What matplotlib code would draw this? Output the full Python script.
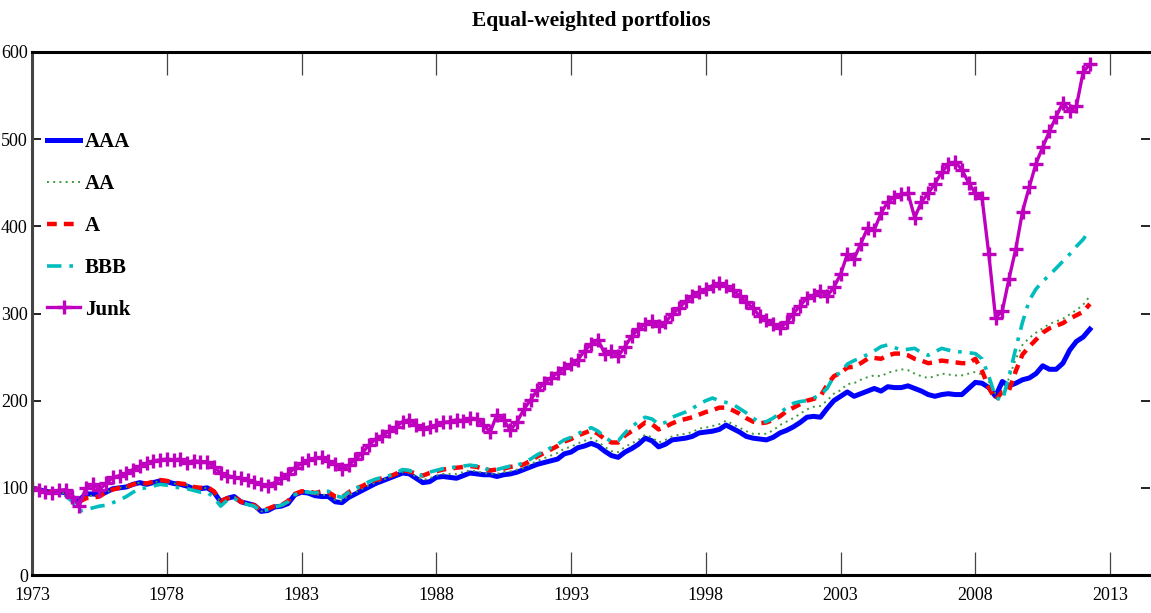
import numpy as np
import matplotlib
matplotlib.use("Agg")
import matplotlib.pyplot as plt
from matplotlib import font_manager

# ---- data: quarterly index levels (1973Q1 = 100) ----
start_year = 1973.0
step = 0.25

aaa = [
    100, 98, 96, 95,
    96, 94, 89, 86,
    93, 93, 92, 95,
    99, 100, 101, 104,
    106, 104, 106, 108,
    107, 105, 104, 102,
    99, 99, 100, 95,
    84, 88, 90, 84,
    82, 80, 73, 74,
    78, 79, 82, 92,
    95, 94, 91, 90,
    90, 84, 83, 89,
    93, 97, 101, 105,
    108, 111, 114, 117,
    116, 111, 106, 107,
    112, 113, 112, 111,
    114, 117, 116, 115,
    115, 113, 115, 116,
    118, 121, 124, 127,
    129, 131, 133, 139,
    141, 146, 148, 151,
    148, 142, 137, 135,
    141, 145, 150, 157,
    154, 147, 150, 155,
    156, 157, 159, 163,
    164, 165, 167, 172,
    168, 164, 159, 157,
    156, 155, 158, 163,
    166, 170, 175, 181,
    182, 181, 191, 200,
    205, 210, 205, 208,
    211, 214, 211, 216,
    215, 215, 217, 214,
    211, 207, 205, 207,
    208, 207, 207, 214,
    221, 220, 215, 205,
    222, 217, 220, 224,
    226, 231, 240, 236,
    236, 243, 258, 268,
    273, 282,
]

aa = [
    100, 98, 96, 95,
    96, 93, 88, 85,
    90, 91, 91, 95,
    98, 100, 101, 104,
    106, 104, 106, 108,
    107, 105, 104, 103,
    100, 99, 100, 95,
    84, 88, 90, 84,
    82, 80, 73, 75,
    78, 79, 83, 92,
    95, 95, 92, 92,
    92, 86, 85, 91,
    95, 99, 103, 106,
    109, 112, 115, 118,
    117, 113, 109, 111,
    114, 116, 116, 116,
    118, 120, 119, 117,
    116, 116, 118, 119,
    121, 123, 127, 131,
    134, 137, 140, 145,
    147, 151, 154, 157,
    153, 147, 142, 141,
    147, 151, 155, 161,
    158, 152, 155, 159,
    161, 162, 164, 168,
    169, 171, 173, 177,
    173, 169, 165, 162,
    162, 162, 166, 172,
    176, 180, 185, 190,
    193, 194, 200, 208,
    212, 219, 220, 224,
    227, 229, 228, 232,
    234, 236, 235, 231,
    228, 226, 228, 231,
    230, 229, 229, 231,
    233, 230, 222, 208,
    206, 226, 248, 264,
    272, 278, 283, 288,
    291, 294, 299, 304,
    310, 320,
]

a = [
    100, 98, 96, 95,
    96, 93, 88, 84,
    88, 89, 90, 95,
    98, 100, 101, 104,
    106, 105, 107, 109,
    108, 106, 105, 104,
    101, 100, 101, 96,
    85, 88, 90, 84,
    82, 80, 74, 76,
    79, 80, 85, 93,
    96, 96, 94, 96,
    95, 90, 89, 95,
    99, 102, 106, 109,
    111, 113, 116, 120,
    119, 116, 114, 117,
    119, 121, 122, 123,
    124, 125, 124, 122,
    120, 121, 122, 124,
    125, 127, 131, 136,
    140, 144, 148, 153,
    156, 160, 163, 166,
    162, 156, 152, 152,
    160, 165, 169, 175,
    173, 167, 170, 174,
    177, 179, 181, 184,
    187, 189, 192, 192,
    189, 185, 180, 176,
    174, 175, 178, 182,
    188, 192, 196, 200,
    202, 205, 218, 228,
    232, 238, 239, 243,
    248, 249, 248, 252,
    254, 254, 252, 248,
    246, 243, 244, 246,
    245, 244, 243, 243,
    248, 234, 215, 201,
    210, 212, 234, 253,
    262, 270, 278, 283,
    286, 289, 294, 298,
    302, 311,
]

bbb = [
    100, 98, 95, 94,
    95, 91, 84, 73,
    75, 77, 79, 80,
    83, 86, 90, 95,
    99, 100, 102, 104,
    103, 101, 100, 99,
    97, 95, 95, 89,
    79, 86, 88, 83,
    81, 79, 73, 75,
    78, 80, 84, 92,
    96, 95, 94, 96,
    96, 91, 89, 95,
    99, 103, 107, 110,
    112, 114, 117, 121,
    120, 116, 114, 118,
    120, 122, 123, 124,
    125, 126, 125, 123,
    120, 121, 123, 125,
    126, 129, 133, 138,
    142, 146, 150, 155,
    158, 162, 166, 169,
    165, 158, 153, 154,
    163, 170, 176, 181,
    179, 173, 175, 181,
    184, 187, 191, 196,
    200, 203, 200, 198,
    196, 191, 186, 180,
    175, 176, 180, 186,
    192, 197, 199, 200,
    203, 207, 214, 228,
    232, 242, 246, 249,
    253, 257, 262, 264,
    261, 258, 259, 260,
    255, 252, 256, 260,
    258, 256, 256, 255,
    254, 248, 228, 204,
    200, 228, 260, 290,
    315, 328, 337, 344,
    352, 360, 368, 377,
    385, 396,
]

junk = [
    100, 97, 95, 94,
    97, 98, 90, 79,
    100, 104, 98, 105,
    112, 114, 117, 121,
    125, 128, 131, 132,
    133, 132, 133, 129,
    131, 130, 130, 124,
    117, 114, 112, 111,
    109, 107, 104, 102,
    106, 111, 116, 123,
    128, 132, 134, 135,
    131, 127, 122, 126,
    133, 140, 149, 156,
    160, 165, 170, 176,
    178, 172, 168, 170,
    172, 175, 176, 178,
    177, 180, 179, 172,
    164, 184, 178, 166,
    176, 190, 201, 212,
    220, 226, 232, 237,
    242, 247, 257, 265,
    270, 254, 257, 251,
    262, 274, 282, 288,
    291, 286, 290, 299,
    306, 314, 320, 325,
    328, 332, 335, 332,
    327, 320, 313, 306,
    297, 292, 288, 283,
    290, 300, 309, 318,
    321, 326, 320, 330,
    345, 368, 363, 380,
    398, 396, 415, 428,
    434, 437, 438, 410,
    428, 438, 449, 462,
    471, 474, 465, 450,
    438, 432, 368, 295,
    303, 340, 374, 417,
    445, 472, 491, 509,
    526, 542, 532, 538,
    577, 586,
]

series_names = ["AAA", "AA", "A", "BBB", "Junk"]
x_ticks = [1973, 1978, 1983, 1988, 1993, 1998, 2003, 2008, 2013]
y_ticks = [0, 100, 200, 300, 400, 500, 600]
title = "Equal-weighted portfolios"

# ---- fonts: Times-style serif ----
avail = {f.name for f in font_manager.fontManager.ttflist}
serif = "Liberation Serif" if "Liberation Serif" in avail else "DejaVu Serif"
plt.rcParams["font.family"] = [serif, "DejaVu Serif"]

fig = plt.figure(figsize=(11.51, 6.13), dpi=100)
ax = fig.add_axes([32 / 1151, 38 / 613, 1118 / 1151, 523 / 613])

t = start_year + step * np.arange(len(junk))

styles = [
    dict(color="#0000ff", lw=3.6, ls="-"),
    dict(color="#3c9a3c", lw=1.4, ls=(0, (1, 2.2))),
    dict(color="#ff0000", lw=3.2, ls=(0, (2.2, 1.6))),
    dict(color="#00bdbd", lw=2.6, ls=(0, (4, 2.2, 1, 2.2))),
    dict(color="#bf00bf", lw=2.4, ls="-", marker="+", ms=9.5, mew=2.4),
]
for name, vals, st in zip(series_names, [aaa, aa, a, bbb, junk], styles):
    ax.plot(t[: len(vals)], vals, label=name, **st)

ax.set_xlim(1973, 2014.48)
ax.set_ylim(0, 600)
ax.set_xticks(x_ticks)
ax.set_yticks(y_ticks)
ax.set_xticklabels([str(v) for v in x_ticks], fontsize=13)
ax.set_yticklabels([str(v) for v in y_ticks], fontsize=13)
ax.tick_params(axis="x", direction="in", length=16.5, width=0.9, color="#444444",
               top=True, bottom=True, pad=9)
ax.tick_params(axis="y", direction="in", length=6.5, width=1.4, color="#222222",
               left=True, right=True, pad=3)
for side in ["top", "bottom"]:
    ax.spines[side].set_linewidth(2.2)
    ax.spines[side].set_color("black")
ax.spines["left"].set_linewidth(2.2)
ax.spines["left"].set_color("#444444")
ax.spines["right"].set_visible(False)

ax.set_title(title, fontsize=15.5, fontweight="bold", pad=19)

leg = ax.legend(loc="upper left", bbox_to_anchor=(-0.003, 0.8825), frameon=False,
                handlelength=1.55, handletextpad=0.25, labelspacing=1.05,
                prop=dict(size=15, weight="bold"))

fig.savefig("out.png", dpi=100)
